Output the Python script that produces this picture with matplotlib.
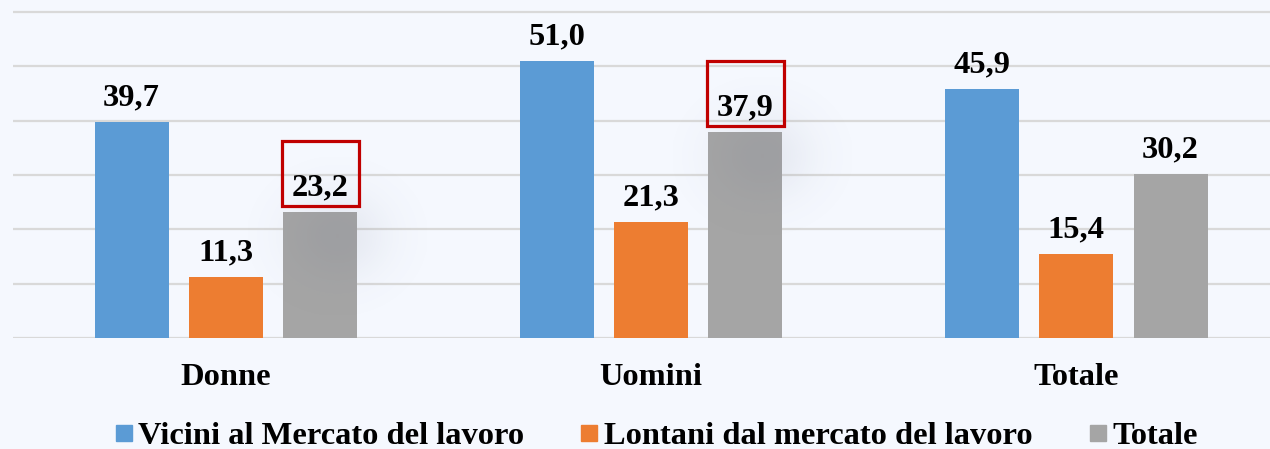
import matplotlib.pyplot as plt
from matplotlib.lines import Line2D
from matplotlib.patches import Rectangle
import numpy as np

# Dati
categorie = ['Donne', 'Uomini', 'Totale']
serie = ['Vicini al Mercato del lavoro', 'Lontani dal mercato del lavoro', 'Totale']
vicini = [39.7, 51.0, 45.9]
lontani = [11.3, 21.3, 15.4]
totale = [23.2, 37.9, 30.2]
evidenziati = [0, 1]  # indici delle categorie con il riquadro rosso sul totale

colori = ['#5b9bd5', '#ed7d31', '#a5a5a5']
sfondo = '#f5f8fe'
fs = 23.4

plt.rcParams['font.family'] = ['Liberation Serif', 'DejaVu Serif']
plt.rcParams['font.weight'] = 'bold'

fig = plt.figure(figsize=(12.7, 4.49), dpi=100, facecolor=sfondo)
ax = fig.add_axes([13 / 1270, 111 / 449, 1257 / 1270, 338 / 449])
ax.set_facecolor(sfondo)

x = np.arange(len(categorie))
larghezza = 0.174
passo = 0.222

# Griglia orizzontale
for yv in range(0, 70, 10):
    ax.axhline(yv, color='#d9d9d9', lw=1.6, zorder=0)

valori = [vicini, lontani, totale]
for k, (vals, col) in enumerate(zip(valori, colori)):
    pos = x + (k - 1) * passo
    ax.bar(pos, vals, width=larghezza, color=col, zorder=2)
    for px, v in zip(pos, vals):
        ax.annotate(f'{v:.1f}'.replace('.', ','), (px, v), xytext=(0, 12),
                    textcoords='offset points', ha='center', va='baseline',
                    fontsize=fs, fontweight='bold', color='black', zorder=5)

# Ombra sfumata e riquadro rosso sui totali evidenziati
gx = np.linspace(-1, 1, 120)
gy = np.linspace(-1, 1, 160)
GX, GY = np.meshgrid(gx, gy)
alfa = 0.11 * np.exp(-(GX ** 2 + GY ** 2) * 3.2)
img = np.zeros((160, 120, 4))
img[..., 0] = 0.40
img[..., 1] = 0.43
img[..., 2] = 0.54
img[..., 3] = alfa
for i in evidenziati:
    px = x[i] + passo
    v = totale[i]
    ax.imshow(img, extent=(px - 0.17, px + 0.25, v - 19, v + 10),
              aspect='auto', zorder=3, interpolation='bilinear')
    ax.add_patch(Rectangle((px - larghezza / 2 - 0.004, v + 1.1),
                           larghezza + 0.008, 12, fill=False,
                           edgecolor='#c00000', lw=2.3, zorder=6))

ax.set_xlim(-0.501, 2.456)
ax.set_ylim(0, 62.2)
ax.set_xticks(x)
ax.set_xticklabels(categorie, fontsize=fs, fontweight='bold')
ax.tick_params(axis='x', length=0, pad=18)
ax.set_yticks([])
for s in ax.spines.values():
    s.set_visible(False)

maniglie = [Line2D([], [], marker='s', linestyle='', markersize=11.5, color=c)
            for c in colori]
fig.legend(maniglie, serie, loc='center', bbox_to_anchor=(0.517, 1 - 436 / 449),
           ncol=3, frameon=False, fontsize=fs, handlelength=0.5,
           handletextpad=0.2, columnspacing=1.75, borderaxespad=0)

plt.savefig('out.png', dpi=100, facecolor=sfondo)
